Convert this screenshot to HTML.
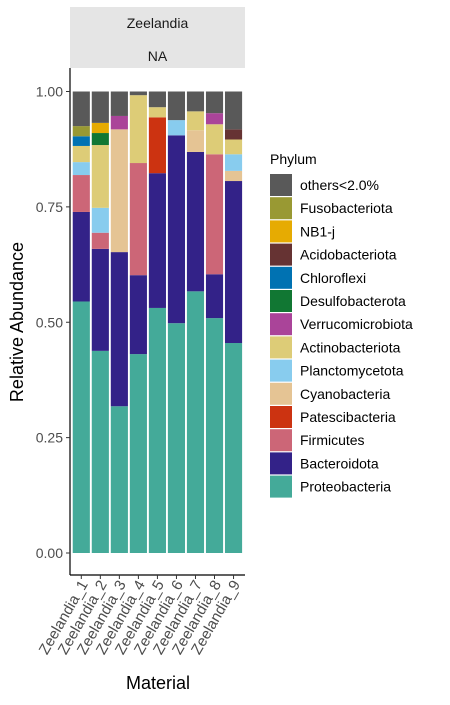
<!DOCTYPE html>
<html><head><meta charset="utf-8"><style>
body{margin:0;background:#fff;font-family:"Liberation Sans",Arial,sans-serif;}
svg text{font-family:"Liberation Sans",Arial,sans-serif;}
</style></head><body>
<svg id="c" width="450" height="700" xmlns="http://www.w3.org/2000/svg">
<rect x="70" y="7" width="175" height="61" fill="#e5e5e5"/>
<text x="157.5" y="28" text-anchor="middle" font-size="14" fill="#1a1a1a">Zeelandia</text>
<text x="157.5" y="61" text-anchor="middle" font-size="14" fill="#1a1a1a">NA</text>
<g id="bars"></g>
<line x1="70" y1="68" x2="70" y2="575" stroke="#000" stroke-width="1.2"/>
<line x1="70" y1="575" x2="245" y2="575" stroke="#000" stroke-width="1.2"/>
<g id="axes"></g>
<text x="158" y="689" text-anchor="middle" font-size="18" fill="#000">Material</text>
<text transform="translate(23,322) rotate(-90)" text-anchor="middle" font-size="18" fill="#000">Relative Abundance</text>
<text x="270" y="164" font-size="14" fill="#000">Phylum</text>
<g id="legend"></g>
</svg>
<script>
const samples=["Zeelandia_1","Zeelandia_2","Zeelandia_3","Zeelandia_4","Zeelandia_5","Zeelandia_6","Zeelandia_7","Zeelandia_8","Zeelandia_9"];
const phyla=["Proteobacteria","Bacteroidota","Firmicutes","Patescibacteria","Cyanobacteria","Planctomycetota","Actinobacteriota","Verrucomicrobiota","Desulfobacterota","Chloroflexi","Acidobacteriota","NB1-j","Fusobacteriota","others<2.0%"];
const colors=["#44AA99","#332288","#CC6677","#CC3311","#E5C494","#88CCEE","#DDCC77","#AA4499","#117733","#0072B2","#663333","#E6AB02","#999933","#595959"];
const vProteo=[0.545,0.438,0.318,0.431,0.531,0.498,0.567,0.509,0.455];
const vBact=[0.194,0.221,0.334,0.171,0.292,0.407,0.302,0.095,0.351];
const vFirm=[0.080,0.035,0,0.243,0,0,0,0.260,0];
const vPatesci=[0,0,0,0,0.121,0,0,0,0];
const vCyano=[0,0,0.266,0,0,0,0.047,0,0.022];
const vPlancto=[0.028,0.054,0,0,0,0.033,0,0,0.036];
const vActino=[0.035,0.136,0,0.147,0.022,0,0.041,0.065,0.032];
const vVerruco=[0,0,0.029,0,0,0,0,0.024,0];
const vDesulfo=[0,0.026,0,0,0,0,0,0,0];
const vChloro=[0.021,0,0,0,0,0,0,0,0];
const vAcido=[0,0,0,0,0,0,0,0,0.022];
const vNB1=[0,0.022,0,0,0,0,0,0,0];
const vFuso=[0.022,0,0,0,0,0,0,0,0];
const vOthers=[0.075,0.068,0.053,0.008,0.034,0.062,0.043,0.047,0.082];
const series=[vProteo,vBact,vFirm,vPatesci,vCyano,vPlancto,vActino,vVerruco,vDesulfo,vChloro,vAcido,vNB1,vFuso,vOthers];
const yTicks=[0,0.25,0.5,0.75,1];
const yTickLabels=["0.00","0.25","0.50","0.75","1.00"];
const NS="http://www.w3.org/2000/svg";
const y=v=>553-461.5*v;
const step=19.03, x=i=>81.3+i*step, bw=0.9*step;
function mk(t,a,p){const e=document.createElementNS(NS,t);for(const k in a)e.setAttribute(k,a[k]);p.appendChild(e);return e;}
const bars=document.getElementById('bars'),axes=document.getElementById('axes'),leg=document.getElementById('legend');
samples.forEach((s,i)=>{let cum=0;series.forEach((arr,j)=>{const v=arr[i];if(v<=0)return;
const r=mk('rect',{x:x(i)-bw/2,y:y(cum+v),width:bw,height:y(cum)-y(cum+v),fill:colors[j]},bars);

cum+=v;});
const tk=mk('line',{x1:x(i),x2:x(i),y1:575,y2:579,stroke:'#333'},axes);

const t=mk('text',{transform:`translate(${x(i)+7},${584}) rotate(-60)`,'text-anchor':'end','font-size':15,fill:'#4d4d4d'},axes);
t.textContent=s;});
yTicks.forEach((v,i)=>{const tk=mk('line',{x1:66,x2:70,y1:y(v),y2:y(v),stroke:'#333'},axes);

const t=mk('text',{x:63,y:y(v)+5,'text-anchor':'end','font-size':14,fill:'#4d4d4d'},axes);
t.textContent=yTickLabels[i];});
for(let k=0;k<phyla.length;k++){const j=phyla.length-1-k;const yy=174+k*23.2;
const r=mk('rect',{x:270,y:yy,width:22,height:22,fill:colors[j]},leg);

const t=mk('text',{x:300,y:yy+16,'font-size':14,fill:'#000'},leg);t.textContent=phyla[j];
}
</script>
</body></html>
